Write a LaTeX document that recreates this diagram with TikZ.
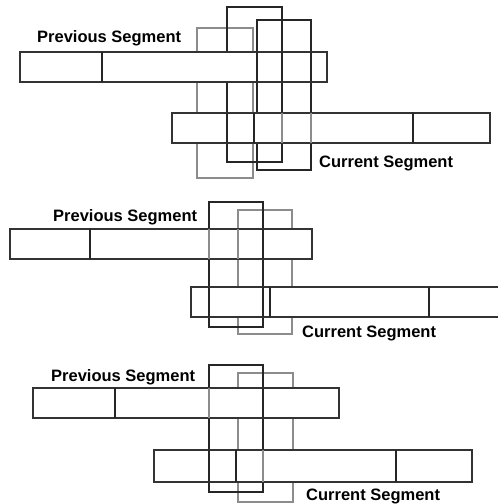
\documentclass[tikz,border=0pt]{standalone}
\usepackage{fontspec}
\setmainfont{Liberation Sans}
\begin{document}
\begin{tikzpicture}[x=1pt,y=-1pt,
  dk/.style={draw=black!85,line width=1.5pt},
  lt/.style={draw=black!45,line width=1.3pt},
  bar/.style={fill=white,draw=black!80,line width=1.4pt},
  lbl/.style={anchor=base west,inner sep=0pt,font=\fontsize{16.5}{18}\selectfont\bfseries}]
\useasboundingbox (0,0) rectangle (498,504);
\clip (0,0) rectangle (498,504);

% ---------- Panel 1 ----------
\draw[lt] (197,28) rectangle (253,178);
\draw[dk] (227,7) rectangle (282,162);
\draw[dk] (257,20) rectangle (311,170);
\draw[bar] (20,52) rectangle (327,82);
\draw[dk] (102,52) -- (102,82);
\draw[dk] (257,52) -- (257,82) (282,52) -- (282,82) (311,52) -- (311,82);
\draw[bar] (172,113) rectangle (490,143);
\draw[dk] (254,113) -- (254,143) (413,113) -- (413,143) (227,113) -- (227,143);
\draw[lt] (282,113) -- (282,143) (311,113) -- (311,143);
\node[lbl] (prev1) at (37,42) {Previous Segment};
\node[lbl] (cur1) at (319,167) {Current Segment};

% ---------- Panel 2 ----------
\draw[lt] (238,210) rectangle (292,334);
\draw[dk] (209,202) rectangle (263,327);
\draw[bar] (10,229) rectangle (312,259);
\draw[dk] (90,229) -- (90,259) (263,229) -- (263,259);
\draw[lt] (209,229) -- (209,259) (238,229) -- (238,259);
\draw[bar] (191,287) rectangle (510,317);
\draw[dk] (270,287) -- (270,317) (429,287) -- (429,317)
          (209,287) -- (209,317) (263,287) -- (263,317);
\node[lbl] (prev2) at (53,221) {Previous Segment};
\node[lbl] (cur2) at (302,337) {Current Segment};

% ---------- Panel 3 ----------
\draw[lt] (238,373) rectangle (293,502);
\draw[dk] (209,365) rectangle (263,492);
\draw[bar] (33,388) rectangle (339,418);
\draw[dk] (115,388) -- (115,418) (263,388) -- (263,418);
\draw[lt] (209,388) -- (209,418);
\draw[bar] (154,450) rectangle (472,482);
\draw[dk] (236,450) -- (236,482) (396,450) -- (396,482) (209,450) -- (209,482);
\draw[lt] (263,450) -- (263,482);
\node[lbl] (prev3) at (51,381) {Previous Segment};
\node[lbl] (cur3) at (306,500) {Current Segment};
\end{tikzpicture}
\end{document}
